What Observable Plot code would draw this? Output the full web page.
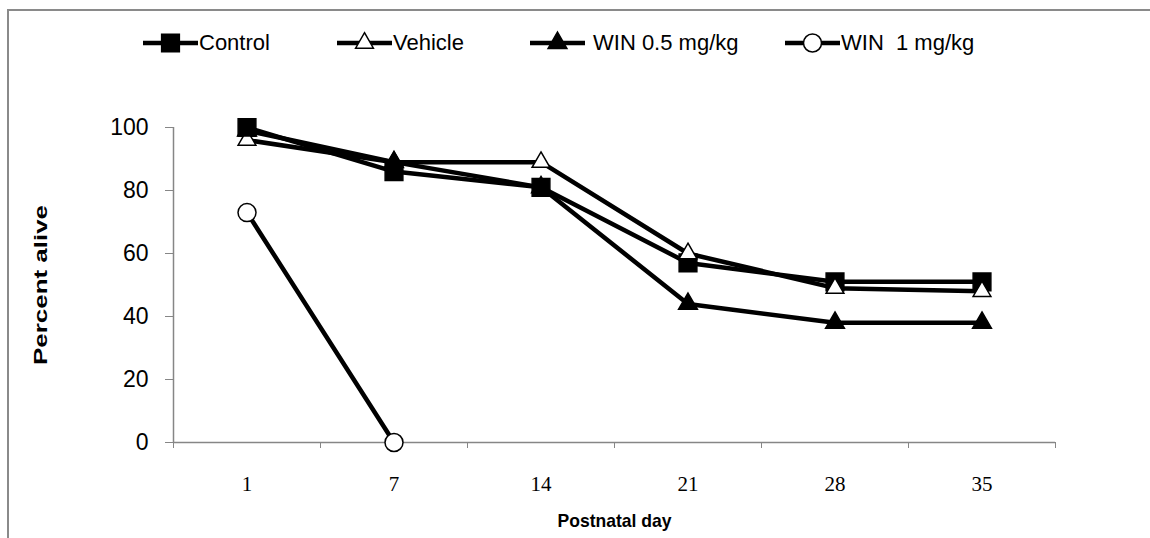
<!DOCTYPE html>
<html>
<head>
<meta charset="utf-8">
<script src="https://cdn.jsdelivr.net/npm/d3@7"></script>
<script src="https://cdn.jsdelivr.net/npm/@observablehq/plot@0.6"></script>
<style>
  html, body { margin: 0; padding: 0; background: #fff; overflow: hidden; }
  #wrap { position: relative; width: 1150px; height: 538px; overflow: hidden; }
  #frame { position: absolute; left: 7px; top: 9px; width: 1300px; height: 700px; border: 2px solid #8a8a8a; box-sizing: border-box; }
  #legend { position: absolute; left: 0; top: 0; width: 1150px; height: 75px; }
  #legend .item { position: absolute; top: 30px; display: flex; align-items: center; height: 26px;
    font-family: "Liberation Sans", Arial, sans-serif; font-size: 22px; color: #000; }
  #legend .item span { display: inline-block; white-space: pre; }
  #legend svg { display: block; }
  #chart { position: absolute; left: 0; top: 75px; }
</style>
</head>
<body>
<div id="wrap">
  <div id="frame"></div>
  <div id="legend"></div>
  <div id="chart"></div>
</div>
<script>
// ---- data ----
const days = ["1", "7", "14", "21", "28", "35"];
const control = [100, 86, 81, 57, 51, 51];
const vehicle = [96, 89, 89, 60, 49, 48];
const win05 = [99, 89, 81, 44, 38, 38];
const win1 = [73, 0, null, null, null, null];
const seriesNames = ["Control", "Vehicle", "WIN 0.5 mg/kg", "WIN  1 mg/kg"];
const yTicks = [0, 20, 40, 60, 80, 100];

const styles = [
  {symbol: "square", fill: "black", stroke: "black", r: 10},
  {symbol: "triangle", fill: "white", stroke: "black", r: 6.6},
  {symbol: "triangle", fill: "black", stroke: "black", r: 7},
  {symbol: "circle", fill: "white", stroke: "black", r: 9}
];
const allValues = [control, vehicle, win05, win1];

const series = allValues.map((vals, s) =>
  vals.map((v, i) => ({i, day: days[i], value: v, name: seriesNames[s]})).filter(d => d.value != null)
);

const marks = [
  // axis lines
  Plot.ruleX([-0.5], {y1: 0, y2: 100, stroke: "#868686", strokeWidth: 1.5}),
  Plot.ruleY([0], {x1: -0.5, x2: 5.5, stroke: "#868686", strokeWidth: 1.5}),
  // y axis ticks + labels
  Plot.axisY({ticks: yTicks, tickSize: 8, tickPadding: 17, stroke: "#868686", fontSize: 23,
    fontFamily: "Liberation Sans, Arial, sans-serif", fill: "#000",
    label: "Percent alive", labelAnchor: "center", labelArrow: "none", labelOffset: 140}),
  // x axis tick marks at category boundaries
  Plot.axisX({ticks: d3.range(-0.5, 6, 1), tickSize: 6, tickFormat: () => "", stroke: "#868686", label: null}),
  // x axis category labels
  Plot.axisX({ticks: d3.range(0, 6), tickSize: 0, tickPadding: 34, tickFormat: i => days[i],
    fontSize: 21, fontFamily: "Liberation Serif, Times New Roman, serif", fill: "#000",
    label: "Postnatal day", labelAnchor: "center", labelArrow: "none", labelOffset: 84})
];

series.forEach((data, s) => {
  marks.push(Plot.line(data, {x: "i", y: "value", stroke: "black", strokeWidth: 4.5}));
  const st = styles[s];
  marks.push(Plot.dot(data, {x: "i", y: "value", symbol: st.symbol, r: st.r, fill: st.fill, stroke: st.stroke, strokeWidth: 1.5}));
});

const chart = Plot.plot({
  width: 1150,
  height: 463,
  marginLeft: 173,
  marginRight: 95,
  marginTop: 52,
  marginBottom: 96,
  style: {fontFamily: "Liberation Sans, Arial, sans-serif", background: "transparent", overflow: "visible"},
  x: {type: "linear", domain: [-0.5, 5.5], axis: null},
  y: {domain: [0, 100], axis: null},
  marks
});
// bold axis titles, tall condensed look as in the reference
const titleLengths = {"y-axis label": 160, "x-axis label": 114};
Object.entries(titleLengths).forEach(([aria, len]) => {
  chart.querySelectorAll(`g[aria-label='${aria}']`).forEach(g => g.setAttribute("font-family", "Liberation Sans, Arial, sans-serif"));
  chart.querySelectorAll(`g[aria-label='${aria}'] text`).forEach(t => {
    t.setAttribute("font-family", "Liberation Sans, Arial, sans-serif");
    t.setAttribute("font-weight", "bold");
    t.setAttribute("font-size", "19");
    t.setAttribute("textLength", len);
    t.setAttribute("lengthAdjust", "spacingAndGlyphs");
  });
});
document.getElementById("chart").appendChild(chart);

// ---- legend (HTML, symbols drawn with d3 symbols) ----
const legendLeft = [143, 337, 530, 785];
const legend = document.getElementById("legend");
seriesNames.forEach((name, s) => {
  const st = styles[s];
  const item = document.createElement("div");
  item.className = "item";
  item.style.left = legendLeft[s] + "px";
  const w = 55, h = 26;
  const svg = d3.create("svg").attr("width", w).attr("height", h);
  svg.append("line").attr("x1", 0).attr("x2", w).attr("y1", h / 2).attr("y2", h / 2)
    .attr("stroke", "black").attr("stroke-width", 4.5);
  const sym = {square: d3.symbolSquare, triangle: d3.symbolTriangle, circle: d3.symbolCircle}[st.symbol];
  svg.append("path").attr("d", d3.symbol(sym, st.r * st.r * Math.PI)())
    .attr("transform", `translate(${w / 2},${h / 2})`)
    .attr("fill", st.fill).attr("stroke", st.stroke).attr("stroke-width", 1.5);
  item.appendChild(svg.node());
  const label = document.createElement("span");
  label.textContent = name;
  label.style.marginLeft = (s === 2 ? 8 : 1) + "px";
  item.appendChild(label);
  legend.appendChild(item);
});
</script>
</body>
</html>
